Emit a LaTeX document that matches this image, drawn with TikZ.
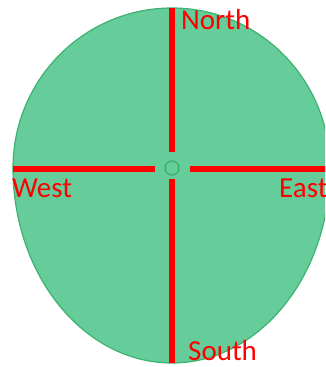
\documentclass[tikz,border=0pt]{standalone}
\usepackage{fontspec}
\setmainfont{Carlito}
\definecolor{leaf}{RGB}{102,204,153}
\definecolor{leafline}{RGB}{60,179,113}
\begin{document}
\begin{tikzpicture}[x=1pt, y=1pt,
  axis/.style={line width=6pt, red},
  compass/.style={text=red, font=\fontsize{29}{34}\selectfont, inner sep=0pt, anchor=base west}]
\clip (0,0) rectangle (325,367);
\useasboundingbox (0,0) rectangle (325,367);
% blob
\filldraw[fill=leaf, draw=leafline, line width=1.2pt] (172,359)
  arc[start angle=90, end angle=180, x radius=159, y radius=160]
  arc[start angle=180, end angle=270, x radius=159, y radius=195]
  arc[start angle=270, end angle=360, x radius=158, y radius=195]
  arc[start angle=0, end angle=90, x radius=158, y radius=160];
% centre and line ends
\coordinate (c) at (172,199);
\coordinate (n) at (172,359);
\coordinate (s) at (172,4);
\coordinate (w) at (13,198);
\coordinate (e) at (330,198);
\draw[axis] (n) -- ([yshift=16pt]c);
\draw[axis] ([yshift=-11pt]c) -- (s);
\draw[axis] (w) -- ([xshift=142pt]w);
\draw[axis] ([xshift=177pt]w) -- (e);
\node[draw=leafline, line width=1.5pt, circle, minimum size=14pt, inner sep=0pt] (hub) at (c) {};
% labels
\node[compass] (north) at (181,337) {North};
\node[compass] (west) at (12,169) {West};
\node[compass] (east) at (279,169) {East};
\node[compass] (south) at (188,6) {South};
\end{tikzpicture}
\end{document}
